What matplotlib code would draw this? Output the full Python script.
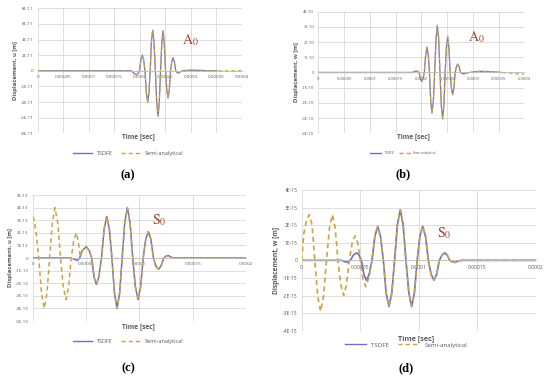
import matplotlib.pyplot as plt
from matplotlib.lines import Line2D

plt.rcParams['font.family'] = ['Open Sans', 'DejaVu Sans']
plt.rcParams['mathtext.fontset'] = 'stix'

# ---- data: time in microseconds ----
# (a) A0 mode, u displacement, values in 1E-11 m
a_t = [0, 184, 189, 194, 197, 199.6, 202.4, 205.2, 207.8, 210.5, 213.1, 215.7, 218.2, 220.6,
       223.0, 225.5, 228.1, 230.8, 233.4, 236.0, 238.4, 240.9, 243.4, 245.8, 248.2, 250.7,
       253.2, 255.6, 258.0, 260.5, 263.0, 265.4, 267.9, 270.6, 273.2, 275.8, 280, 285, 300,
       320, 340, 351]
a_u = [0, 0, -0.35, -0.5, -0.35, 0, 1.4, 2.0, 1.4, 0, -2.8, -4.0, -2.8, 0,
       3.7, 5.2, 3.7, 0, -4.1, -5.8, -4.1, 0, 3.6, 5.1, 3.6, 0,
       -2.5, -3.5, -2.5, 0, 1.2, 1.7, 1.2, 0, -0.2, -0.3, -0.1, 0, 0.08,
       0.05, 0, 0]
a_semi_tail_t = [375, 400]
a_semi_tail_u = [0, 0]

# (b) A0 mode, w displacement, values in 1E-10 m
b_t = [0, 183, 187, 190.9, 194, 195.7, 198.2, 200.6, 203.2, 205.8, 208.4, 211.0, 213.4, 215.8,
       218.3, 220.7, 223.3, 225.9, 228.5, 231.1, 233.7, 236.2, 238.8, 241.4, 243.8, 246.2,
       248.7, 251.1, 253.5, 256.0, 258.4, 260.8, 263.3, 265.7, 268.2, 270.6, 273.2, 276,
       281.6, 290, 305, 315, 335, 356]
b_w = [0, 0, 0.07, 0.1, 0.05, 0, -0.42, -0.6, -0.42, 0, 1.17, 1.66, 1.17, 0,
       -1.9, -2.67, -1.9, 0, 2.2, 3.1, 2.2, 0, -2.17, -3.06, -2.17, 0,
       1.67, 2.36, 1.67, 0, -1.03, -1.46, -1.03, 0, 0.39, 0.55, 0.39, 0,
       -0.1, -0.02, 0.05, 0.08, 0.05, 0]
b_semi_tail_t = [375, 400]
b_semi_tail_w = [-0.05, -0.13]

# (c) S0 mode, u displacement, values in 1E-13 m
c_tsdfe_head_t = [0, 36, 39, 41.9, 44]
c_tsdfe_head_u = [0, 0, -0.1, -0.2, 0]
c_semi_head_t = [0, 1.5, 3.5, 5.7, 8.3, 10.9, 13.4, 15.9, 18.4, 20.9, 23.5, 26.1, 28.7,
                 31.3, 33.7, 36.1, 38.5, 40.9, 42.8, 44.5]
c_semi_head_u = [3.3, 3.0, 1.8, 0, -2.8, -4.0, -2.8, 0, 2.8, 4.0, 2.8, 0, -2.3,
                 -3.3, -2.3, 0, 1.4, 2.0, 1.3, 0.2]
c_t = [46.5, 50.3, 53, 55.3, 57.5, 59.7, 62, 64.5, 67, 69.4, 71.9, 74.3, 76.7, 79.1, 81.5,
       83.9, 86.3, 88.8, 91.3, 93.8, 96.3, 98.8, 101.2, 103.6, 106.0, 108.4, 110.8, 113.2,
       115.6, 118.1, 120.5, 122.8, 125, 127.2, 130, 133, 200]
c_u = [0.6, 0.9, 0.6, 0, -1.5, -2.1, -1.5, 0, 2.3, 3.3, 2.3, 0, -2.8, -4.0, -2.8,
       0, 2.8, 4.0, 2.8, 0, -2.3, -3.3, -2.3, 0, 1.5, 2.1, 1.5, 0,
       -0.65, -0.9, -0.6, 0, 0.15, 0.2, 0.05, 0, 0]

# (d) S0 mode, w displacement, values in 1E-15 m
d_tsdfe_head_t = [0, 34, 37, 39.3, 41.5, 44.2, 46.9, 49.0, 51.0, 53.1, 55.2, 57.6]
d_tsdfe_head_w = [0, 0, -0.07, -0.12, 0, 0.3, 0.43, 0.3, 0, -0.8, -1.13, -0.8]
d_semi_head_t = [0, 1.8, 4.2, 6.5, 8.9, 11.2, 13.7, 16.2, 18.6, 21.2, 23.7, 26.2, 28.6,
                 31.0, 33.4, 35.8, 38.2, 40.6, 43.1, 45.5, 47.8, 50.1, 52.3, 54.6, 57.3]
d_semi_head_w = [0, 1.5, 2.3, 2.6, 2.0, 0, -2.05, -2.9, -2.05, 0, 1.85, 2.6, 1.85,
                 0, -1.4, -2.0, -1.4, 0, 1.0, 1.4, 1.0, 0, -1.05, -1.5, -1.0]
d_t = [60.0, 62.5, 64.9, 67.3, 69.7, 72.1, 74.5, 76.9, 79.3, 81.7, 84.2, 86.6, 89.0, 91.5,
       93.9, 96.2, 98.6, 100.9, 103.3, 105.7, 108.1, 110.5, 112.9, 115.2, 117.5, 119.8,
       122.0, 124.2, 126.4, 128.7, 130.9, 133.5, 137, 200]
d_w = [0, 1.37, 1.93, 1.37, 0, -1.86, -2.63, -1.86, 0, 2.03, 2.87, 2.03, 0, -1.86,
       -2.63, -1.86, 0, 1.37, 1.93, 1.37, 0, -0.8, -1.13, -0.8, 0, 0.3,
       0.43, 0.3, 0, -0.08, -0.12, -0.03, 0, 0]

# ticks
ab_xticks = [0, 50, 100, 150, 200, 250, 300, 350, 400]
ab_xticklabels = ['0', '0.00005', '0.0001', '0.00015', '0.0002', '0.00025', '0.0003',
                  '0.00035', '0.0004']
cd_xticks = [0, 50, 100, 150, 200]
cd_xticklabels = ['0', '0.00005', '0.0001', '0.00015', '0.0002']
a_yticks = [-8, -6, -4, -2, 0, 2, 4, 6, 8]
a_yticklabels = ['-8E-11', '-6E-11', '-4E-11', '-2E-11', '0', '2E-11', '4E-11', '6E-11', '8E-11']
b_yticks = [-4, -3, -2, -1, 0, 1, 2, 3, 4]
b_yticklabels = ['-4E-10', '-3E-10', '-2E-10', '-1E-10', '0', '1E-10', '2E-10', '3E-10', '4E-10']
c_yticks = [-5, -4, -3, -2, -1, 0, 1, 2, 3, 4, 5]
c_yticklabels = ['-5E-13', '-4E-13', '-3E-13', '-2E-13', '-1E-13', '0', '1E-13', '2E-13',
                 '3E-13', '4E-13', '5E-13']
d_yticks = [-4, -3, -2, -1, 0, 1, 2, 3, 4]
d_yticklabels = ['-4E-15', '-3E-15', '-2E-15', '-1E-15', '0', '1E-15', '2E-15', '3E-15', '4E-15']

blue = '#6f6fc6'
gold = '#c9a443'
grid = '#d9d9d9'
txt = '#595959'

fig = plt.figure(figsize=(5.5, 3.77), dpi=100)


def panel(rect, t1, v1, t2, v2, xt, xtl, yt, ytl, ylabel, mode, mode_xy, lw, tick_fs, lab_fs):
    ax = fig.add_axes(rect)
    ax.plot(t1, v1, color=blue, lw=lw, solid_joinstyle='round')
    ax.plot(t2, v2, color=gold, lw=lw, dashes=(3, 2.2))
    ax.set_xlim(xt[0], xt[-1])
    ax.set_ylim(yt[0], yt[-1])
    ax.set_xticks(xt)
    ax.set_xticklabels(xtl)
    ax.set_yticks(yt)
    ax.set_yticklabels(ytl)
    ax.grid(True, color=grid, lw=0.6)
    ax.set_axisbelow(True)
    for s in ['top', 'right', 'left']:
        ax.spines[s].set_visible(False)
    ax.spines['bottom'].set_position(('data', 0))
    ax.spines['bottom'].set_color('#bfbfbf')
    ax.spines['bottom'].set_linewidth(0.6)
    ax.tick_params(length=0, labelsize=tick_fs, colors=txt, pad=3)
    ax.set_ylabel(ylabel, fontsize=lab_fs, color=txt, fontweight='bold', labelpad=2)
    ax.text(mode_xy[0], mode_xy[1], mode, fontsize=10, color='#a04030',
            ha='center', va='center')
    return ax


pos_a = [0.0685, 0.6464, 0.3709, 0.3316]
pos_b = [0.5788, 0.6464, 0.3745, 0.3227]
pos_c = [0.0594, 0.1485, 0.3879, 0.3342]
pos_d = [0.5485, 0.1228, 0.4260, 0.3732]

panel(pos_a, a_t, a_u, a_t + a_semi_tail_t, a_u + a_semi_tail_u,
      ab_xticks, ab_xticklabels, a_yticks, a_yticklabels,
      'Displacement, u [m]', r'$\mathrm{A}_0$', (299, 3.9), 0.9, 3.2, 4.2)
panel(pos_b, b_t, b_w, b_t + b_semi_tail_t, b_w + b_semi_tail_w,
      ab_xticks, ab_xticklabels, b_yticks, b_yticklabels,
      'Displacement, w [m]', r'$\mathrm{A}_0$', (307, 2.3), 0.9, 3.0, 4.2)
panel(pos_c, c_tsdfe_head_t + c_t, c_tsdfe_head_u + c_u, c_semi_head_t + c_t, c_semi_head_u + c_u,
      cd_xticks, cd_xticklabels, c_yticks, c_yticklabels,
      'Displacement, u [m]', r'$\mathrm{S}_0$', (119, 3.0), 1.1, 3.2, 4.2)
panel(pos_d, d_tsdfe_head_t + d_t, d_tsdfe_head_w + d_w, d_semi_head_t + d_t, d_semi_head_w + d_w,
      cd_xticks, cd_xticklabels, d_yticks, d_yticklabels,
      'Displacement, w [m]', r'$\mathrm{S}_0$', (122, 1.56), 1.2, 3.6, 4.8)

# axis titles, legends and panel labels
handles = [Line2D([], [], color=blue, lw=1.0), Line2D([], [], color=gold, lw=1.0, dashes=(3, 2.2))]
names = ['TSDFE', 'Semi-analytical']
for x, y_time, y_leg, y_lab, lab, leg_fs, time_fs in [
        (0.252, 0.637, 0.592, 0.535, '(a)', 4.0, 4.8),
        (0.752, 0.637, 0.594, 0.538, '(b)', 2.4, 4.8),
        (0.252, 0.133, 0.093, 0.024, '(c)', 4.0, 4.8),
        (0.757, 0.103, 0.085, 0.024, '(d)', 4.4, 5.2)]:
    fig.text(x, y_time, 'Time [sec]', fontsize=time_fs, color=txt, fontweight='bold',
             ha='center', va='center')
    fig.legend(handles, names, loc='center', bbox_to_anchor=(x - 0.019, y_leg), ncol=2,
               frameon=False, fontsize=leg_fs, handlelength=3.5, columnspacing=1.5,
               labelcolor=txt)
    fig.text(x - 0.019, y_lab, lab, fontsize=9, fontweight='bold', family='Liberation Serif',
             ha='center', va='center')

fig.savefig('out.png', dpi=100)
